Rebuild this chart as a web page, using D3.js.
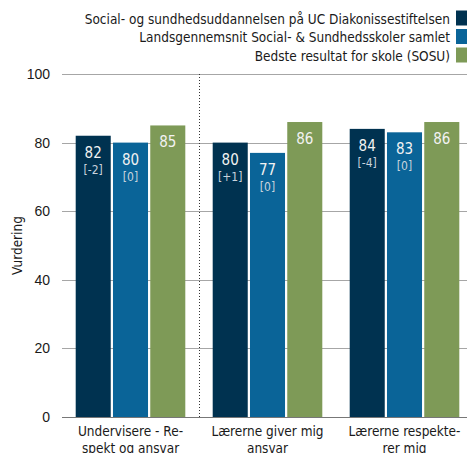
<!DOCTYPE html>
<html>
<head>
<meta charset="utf-8">
<script src="https://cdn.jsdelivr.net/npm/d3@7"></script>
<style>
  body { margin: 0; background: #fff; }
  svg { display: block; font-family: Tahoma, "DejaVu Sans Condensed", "Liberation Sans", sans-serif; }
</style>
</head>
<body>
<div id="chart"></div>
<script>
// chart data
const categories = [
  ['Undervisere - Re-', 'spekt og ansvar'],
  ['Lærerne giver mig', 'ansvar'],
  ['Lærerne respekte-', 'rer mig']
];
const seriesNames = [
  'Social- og sundhedsuddannelsen på UC Diakonissestiftelsen',
  'Landsgennemsnit Social- & Sundhedsskoler samlet',
  'Bedste resultat for skole (SOSU)'
];
const schoolValues = [82, 80, 84];
const schoolChange = ['[-2]', '[+1]', '[-4]'];
const nationalValues = [80, 77, 83];
const nationalChange = ['[0]', '[0]', '[0]'];
const bestValues = [85, 86, 86];
const yTicks = [0, 20, 40, 60, 80, 100];

const colors = ['#003250', '#0a6498', '#7e9a57'];

const width = 467, height = 453;
const margin = { top: 74, right: -6, bottom: 36, left: 62 };

const svg = d3.select('#chart').append('svg')
  .attr('width', width)
  .attr('height', height);

const x0 = d3.scaleBand()
  .domain(d3.range(categories.length))
  .range([margin.left, width - margin.right])
  .paddingInner(0.2)
  .paddingOuter(0.1);

const x1 = d3.scaleBand()
  .domain(d3.range(3))
  .range([0, x0.bandwidth()])
  .paddingInner(0.06);

const y = d3.scaleLinear()
  .domain([0, 100])
  .range([height - margin.bottom, margin.top]);

// gridlines
svg.append('g')
  .selectAll('line')
  .data(yTicks)
  .enter()
  .append('line')
  .attr('x1', margin.left)
  .attr('x2', width)
  .attr('y1', d => Math.round(y(d)) + 0.5)
  .attr('y2', d => Math.round(y(d)) + 0.5)
  .attr('stroke', d => d === 0 ? '#777' : '#a6a6a6')
  .attr('stroke-width', 1);

// y axis labels
const yAxis = svg.append('g')
  .attr('transform', `translate(${margin.left}, 0)`)
  .call(d3.axisLeft(y).tickValues(yTicks).tickSize(0).tickPadding(12));
yAxis.select('.domain').remove();
yAxis.selectAll('text')
  .attr('font-size', 14)
  .attr('fill', '#1a1a1a')
  .style('font-family', 'inherit');

svg.append('text')
  .attr('transform', `translate(22, ${y(50)}) rotate(-90)`)
  .attr('text-anchor', 'middle')
  .attr('font-size', 13.5)
  .attr('fill', '#1a1a1a')
  .text('Vurdering');

// dotted separator between first and second group
const sepX = (x0(0) + x0.bandwidth() + x0(1)) / 2;
svg.append('line')
  .attr('x1', Math.round(sepX) + 0.5)
  .attr('x2', Math.round(sepX) + 0.5)
  .attr('y1', y(100))
  .attr('y2', y(0))
  .attr('stroke', '#333')
  .attr('stroke-width', 1)
  .attr('stroke-dasharray', '1,2');

// bars
const rows = categories.map((c, i) => ({
  i,
  vals: [
    { s: 0, v: schoolValues[i], ch: schoolChange[i] },
    { s: 1, v: nationalValues[i], ch: nationalChange[i] },
    { s: 2, v: bestValues[i], ch: null }
  ]
}));

const groups = svg.append('g')
  .selectAll('g')
  .data(rows)
  .enter()
  .append('g')
  .attr('transform', d => `translate(${x0(d.i)}, 0)`);

groups.selectAll('rect')
  .data(d => d.vals)
  .enter()
  .append('rect')
  .attr('x', d => x1(d.s))
  .attr('y', d => y(d.v))
  .attr('width', x1.bandwidth())
  .attr('height', d => y(0) - y(d.v))
  .attr('fill', d => colors[d.s]);

groups.selectAll('.val')
  .data(d => d.vals)
  .enter()
  .append('text')
  .attr('class', 'val')
  .attr('x', d => x1(d.s) + x1.bandwidth() / 2)
  .attr('y', d => y(d.v) + 22)
  .attr('text-anchor', 'middle')
  .attr('font-size', 15)
  .attr('fill', '#f2f2f2')
  .text(d => d.v);

groups.selectAll('.chg')
  .data(d => d.vals.filter(v => v.ch))
  .enter()
  .append('text')
  .attr('class', 'chg')
  .attr('x', d => x1(d.s) + x1.bandwidth() / 2)
  .attr('y', d => y(d.v) + 38)
  .attr('text-anchor', 'middle')
  .attr('font-size', 12)
  .attr('fill', '#c9d3dd')
  .text(d => d.ch);

// category labels
const catText = svg.append('g')
  .selectAll('text')
  .data(categories)
  .enter()
  .append('text')
  .attr('x', (d, i) => x0(i) + x0.bandwidth() / 2)
  .attr('y', y(0) + 19)
  .attr('text-anchor', 'middle')
  .attr('font-size', 13.5)
  .attr('fill', '#1a1a1a');
catText.selectAll('tspan')
  .data(d => d)
  .enter()
  .append('tspan')
  .attr('x', function () { return d3.select(this.parentNode).attr('x'); })
  .attr('dy', (d, i) => i === 0 ? 0 : 17)
  .text(d => d);

// legend
const legend = svg.append('g')
  .selectAll('g')
  .data(seriesNames)
  .enter()
  .append('g')
  .attr('transform', (d, i) => `translate(0, ${23.5 + i * 18.5})`);

legend.append('rect')
  .attr('x', 456)
  .attr('y', -13)
  .attr('width', 14)
  .attr('height', 15)
  .attr('fill', (d, i) => colors[i]);

legend.append('text')
  .attr('x', 450)
  .attr('y', 0)
  .attr('text-anchor', 'end')
  .attr('font-size', 13.5)
  .attr('fill', '#1a1a1a')
  .text(d => d);
</script>
</body>
</html>
